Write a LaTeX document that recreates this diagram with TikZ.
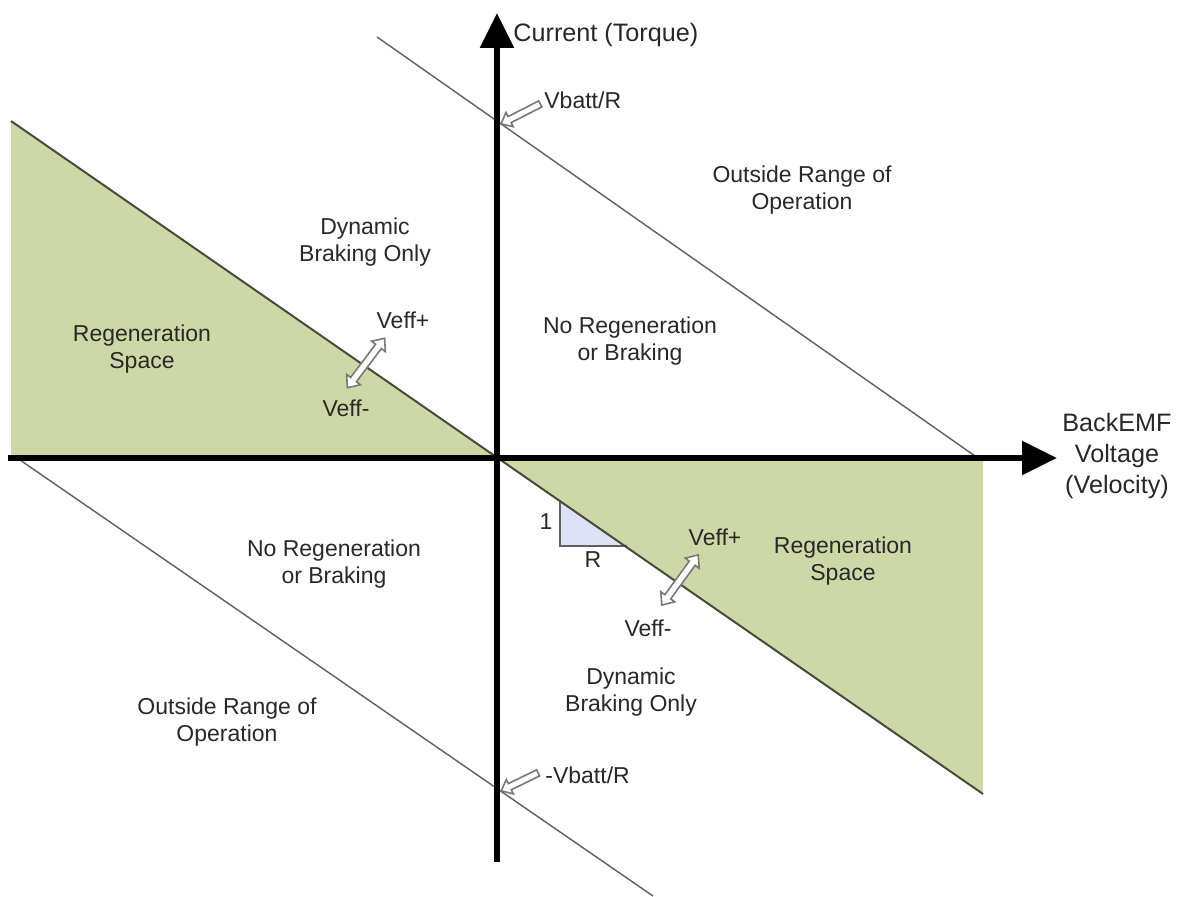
\documentclass[tikz,border=0pt]{standalone}
\usepackage{fontspec}
\setmainfont{Liberation Sans}
\usetikzlibrary{arrows.meta,shapes.arrows}
\definecolor{regen}{RGB}{206,216,166}
\definecolor{tri}{RGB}{222,226,246}
\definecolor{txt}{RGB}{40,40,40}
\definecolor{thin}{RGB}{95,95,95}
\definecolor{diag}{RGB}{70,75,60}
\definecolor{hollow}{RGB}{120,120,120}
\begin{document}
\begin{tikzpicture}[x=0.5pt,y=-0.5pt,
  lbl/.style={font=\fontsize{11.5}{13.5}\selectfont, text=txt, align=center, inner sep=0pt},
  axlbl/.style={font=\fontsize{12.6}{15.5}\selectfont, text=txt, align=center, inner sep=0pt},
  axisline/.style={line width=3pt, -{Triangle[length=17.5pt,width=16.5pt]}},
  guide/.style={draw=thin, line width=0.7pt},
  dblarrow/.style={double arrow, draw=hollow, fill=white, line width=0.8pt,
    minimum height=31pt, minimum width=8pt, inner sep=1.4pt,
    double arrow head extend=2.5pt, double arrow tip angle=80},
  pointer/.style={single arrow, draw=hollow, fill=white, line width=0.8pt,
    minimum width=7.5pt, inner sep=1.3pt,
    single arrow head extend=2.3pt, single arrow tip angle=80}
]
\useasboundingbox[fill=white] (0,0) rectangle (1179,897);
% key points
\coordinate (O) at (497,458);
\coordinate (yb) at (497,862);
\coordinate (yt) at (497,13);
\coordinate (xl) at (8,458);
\coordinate (xr) at (1057,458);
\coordinate (dl) at (11,121);
\coordinate (dr) at (983,794);
\coordinate (gl) at (11,458);
\coordinate (gr) at (983,458);
\coordinate (ua) at (377,37);
\coordinate (ub) at (975,456);
\coordinate (la) at (20,460);
\coordinate (lb) at (653,896);
\coordinate (t1) at (560,502);
\coordinate (t2) at (560,546);
\coordinate (t3) at (627,546);
% regeneration spaces
\fill[regen] (dl) -- (O) -- (gl) -- cycle;
\fill[regen] (O) -- (gr) -- (dr) -- cycle;
% slope triangle
\fill[tri] (t1) -- (t2) -- (t3) -- cycle;
\draw[guide] (t1) -- (t2) -- (t3);
% parallel limit lines
\draw[guide] (ua) -- (ub);
\draw[guide] (la) -- (lb);
% zero-current line
\draw[draw=diag, line width=1pt] (dl) -- (dr);
% axes
\draw[axisline] (yb) -- (yt);
\draw[axisline] (xl) -- (xr);
% hollow arrows
\node[dblarrow, rotate=53] (da1) at (366,363) {};
\node[dblarrow, rotate=54] (da2) at (680,580) {};
\node[pointer, minimum height=22pt, rotate=207] (pa1) at (522.5,113) {};
\node[pointer, minimum height=20.5pt, rotate=206] (pa2) at (521.5,781) {};
% labels
\node[axlbl, anchor=west] (cur) at (513,35) {Current (Torque)};
\node[axlbl] (emf) at (1117,456) {BackEMF\\Voltage\\(Velocity)};
\node[lbl, anchor=west] (vb) at (544,100) {Vbatt/R};
\node[lbl, anchor=west] (nvb) at (545,775) {-Vbatt/R};
\node[lbl] (orq1) at (802,190) {Outside Range of\\Operation};
\node[lbl] (dbq2) at (365,242) {Dynamic\\Braking Only};
\node[lbl] (rsq2) at (142,349) {Regeneration\\Space};
\node[lbl] (vp1) at (403,320) {Veff+};
\node[lbl] (vm1) at (346,408) {Veff-};
\node[lbl] (nrq1) at (630,341) {No Regeneration\\or Braking};
\node[lbl] (one) at (546,522) {1};
\node[lbl] (rr) at (593,560) {R};
\node[lbl] (vp2) at (715,537) {Veff+};
\node[lbl] (rsq4) at (843,561) {Regeneration\\Space};
\node[lbl] (vm2) at (648,628) {Veff-};
\node[lbl] (nrq3) at (334,564) {No Regeneration\\or Braking};
\node[lbl] (dbq4) at (631,692) {Dynamic\\Braking Only};
\node[lbl] (orq3) at (227,722) {Outside Range of\\Operation};
\end{tikzpicture}
\end{document}
